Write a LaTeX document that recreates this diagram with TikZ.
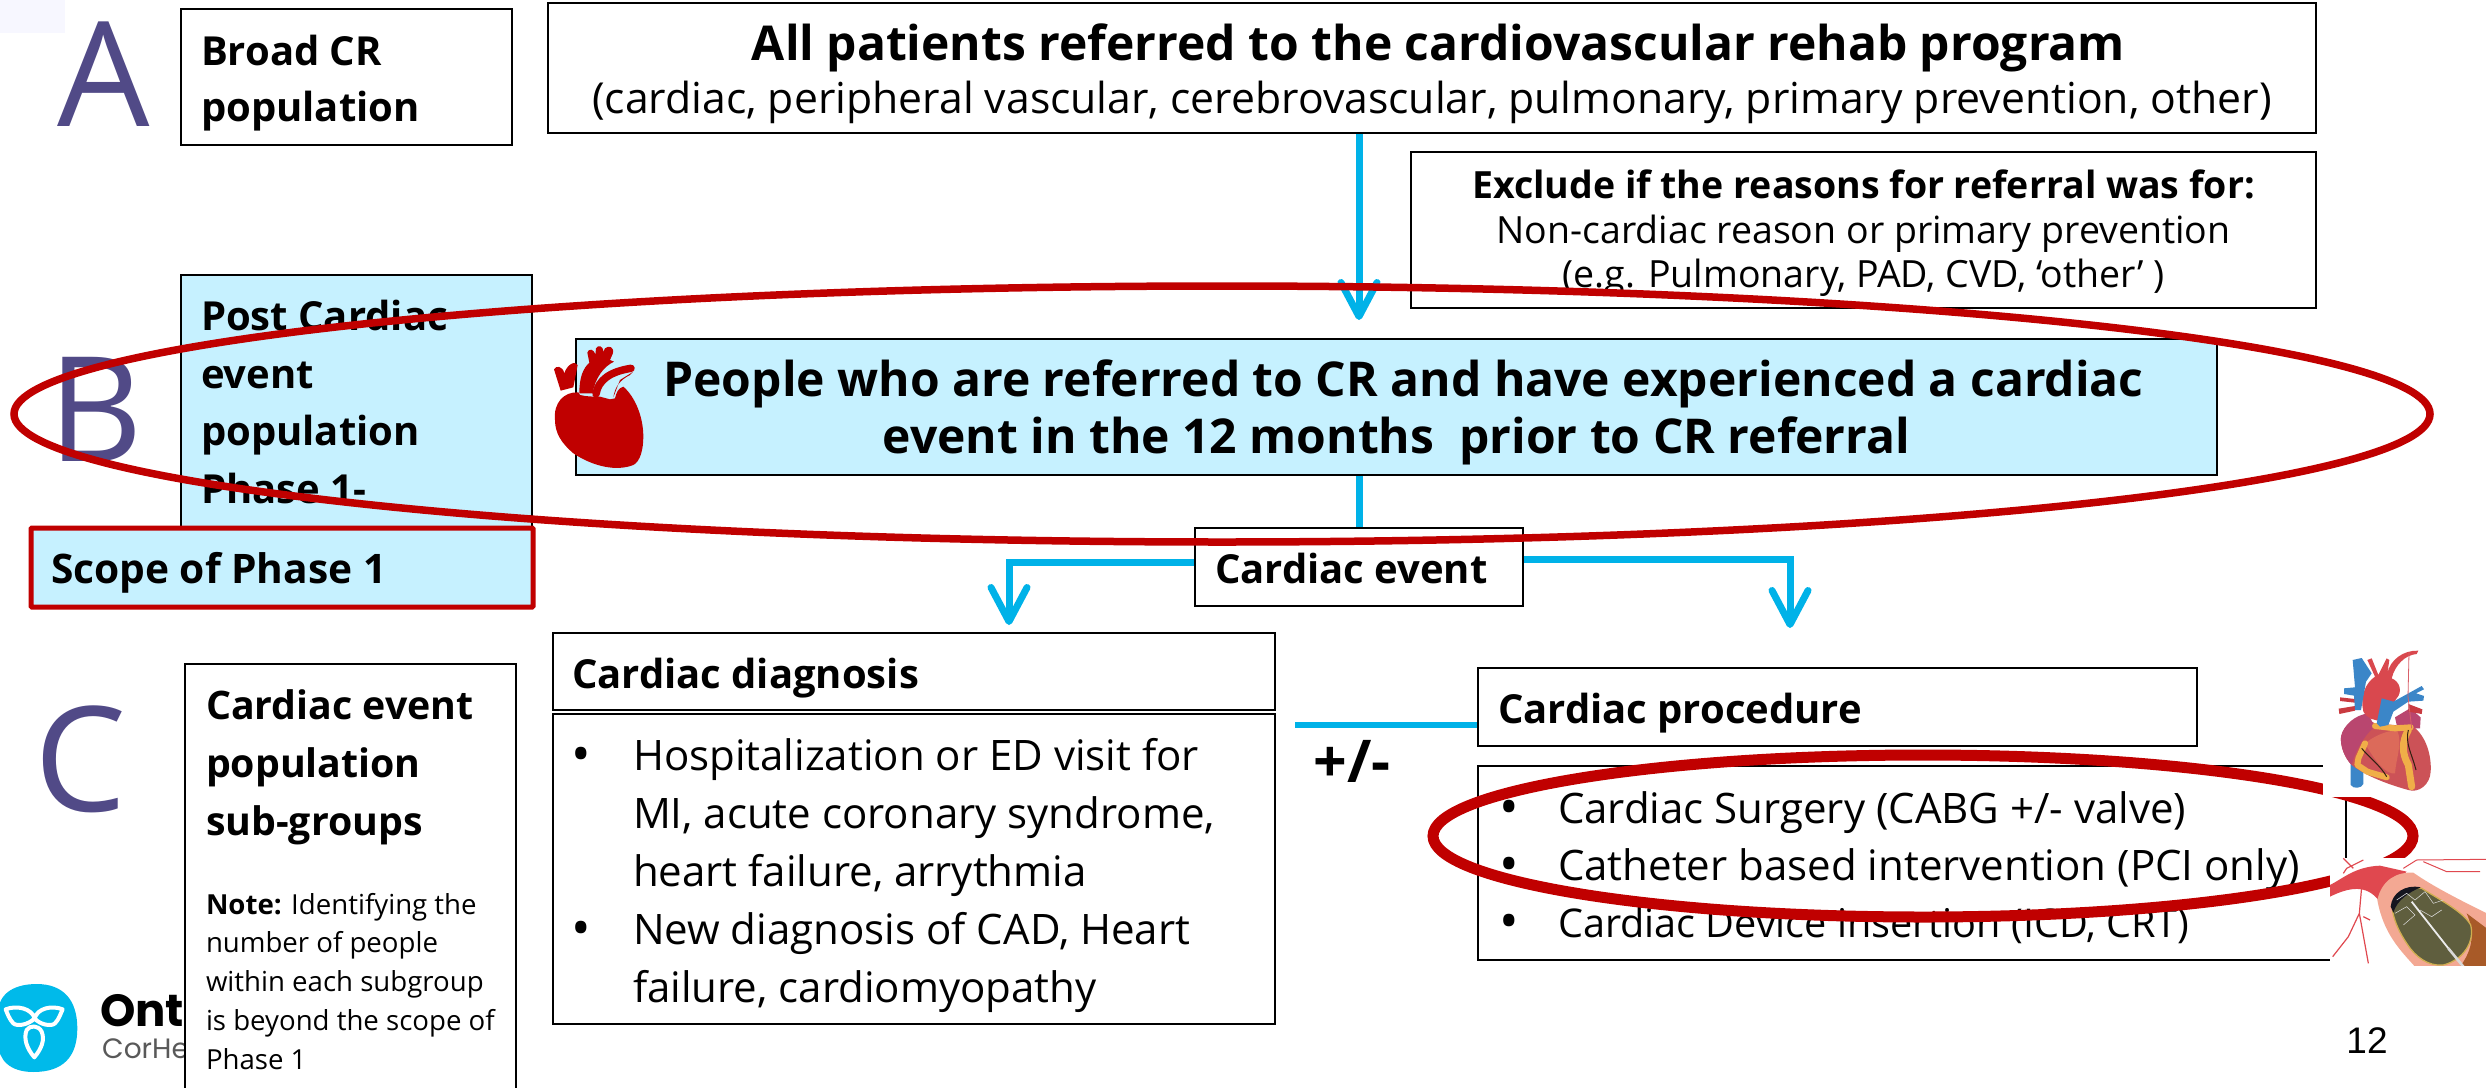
\documentclass[tikz,border=0pt]{standalone}
\usepackage{fontspec}
\usetikzlibrary{arrows.meta}
\setmainfont{Open Sans}
\newfontfamily\logofont{Poppins}
\newfontfamily\numfont{Liberation Sans}
\definecolor{pale}{HTML}{C6F1FF}
\definecolor{crimson}{HTML}{C00000}
\definecolor{sky}{HTML}{00B2E8}
\definecolor{violet}{HTML}{514A87}
\definecolor{hblue}{HTML}{3B86C8}
\definecolor{hbody}{HTML}{CC5257}
\definecolor{hpink}{HTML}{B9466F}
\definecolor{hgold}{HTML}{F0AE48}
\definecolor{hsalmon}{HTML}{DC6A5A}
\definecolor{hdark}{HTML}{C93A40}
\definecolor{hred}{HTML}{D9484E}
\definecolor{hline}{HTML}{D9606A}
\definecolor{sred}{HTML}{E0484F}
\definecolor{swall}{HTML}{F3A893}
\definecolor{sbrown}{HTML}{A85A28}
\definecolor{solive}{HTML}{5F5E3E}
\definecolor{sgold}{HTML}{D0AE50}
\definecolor{snavy}{HTML}{15151F}
\newcommand{\fsz}[2]{\fontsize{#1}{#2}\selectfont}
\newcommand{\dn}[1]{\rule{0pt}{#1pt}}
\newcommand{\bdot}{\makebox[0pt][l]{\fsz{52}{0}\raisebox{-2pt}{•}}}
\newcommand{\bul}[2][61pt]{\noindent\makebox[#1][l]{\bdot}#2\par}
\newcommand{\cnt}[2][61pt]{\noindent\hspace*{#1}#2\par}
\tikzset{
 box/.style={draw=black,line width=2pt,fill=white,inner sep=0pt,inner xsep=20pt,align=flush left,execute at begin node={\spaceskip=0pt\relax\xspaceskip=0pt\relax}},
 cbox/.style={draw=black,line width=2pt,fill=white,inner sep=0pt,align=flush center,execute at begin node={\spaceskip=0pt\relax\xspaceskip=0pt\relax}},
 bigletter/.style={text=violet,font=\fsz{146}{146},inner sep=0pt},
 flow/.style={draw=sky,line width=7pt},
 flowtip/.style={flow,-{Straight Barb[length=34pt,width=36pt,line width=7pt,round]}},
 ring/.style={draw=crimson},
}
\begin{document}
\begin{tikzpicture}[x=1pt,y=-1pt]
\useasboundingbox (0,0) rectangle (2486,1087);
\fill[white] (0,0) rectangle (2486,1087);
\fill[blue!3] (0,0) rectangle (65,33);
% letters
\node[bigletter] (la) at (104,74) {A};
\node[bigletter] (lb) at (96,409) {B};
\node[bigletter] (lc) at (81,759) {C};
% logo
\begin{scope}[shift={(0,960)},x=0.3333pt,y=-0.3333pt]
 \fill[sky!90!cyan] (-5,150) .. controls (0,95) and (50,72) .. (110,72) .. controls (190,72) and (232,120) .. (232,205)
   .. controls (232,290) and (190,336) .. (100,336) .. controls (30,336) and (-5,300) .. (-5,250) -- cycle;
 \draw[white,line width=4pt,line join=round]
   (17,148) .. controls (50,135) and (95,145) .. (104,175) .. controls (85,195) and (50,200) .. (40,190) .. controls (28,178) and (22,160) .. (17,148) -- cycle
   (188,148) .. controls (155,135) and (112,145) .. (104,175) .. controls (120,195) and (155,200) .. (165,190) .. controls (177,178) and (182,160) .. (188,148) -- cycle
   (103,292) .. controls (80,265) and (70,235) .. (80,210) .. controls (90,195) and (115,195) .. (125,215) .. controls (135,240) and (125,265) .. (103,292) -- cycle;
\end{scope}
\node[inner sep=0pt,anchor=base west,font=\logofont\bfseries\fsz{45}{45}] (logoa) at (100,1026) {Onta};
\node[inner sep=0pt,anchor=base west,text=black!65,font=\logofont\fsz{28}{28}] (logob) at (102,1058) {CorHe};
% boxes
\node[box,minimum width=331pt,minimum height=136pt,text width=291pt,font=\bfseries\fsz{40}{56}] (broad) at (346.5,77) {\dn{43}Broad CR\\population};
\node[cbox,minimum width=1768pt,minimum height=130pt,text width=1760pt] (top) at (1432,68)
 {{\bfseries\fsz{48}{56}\dn{48}\hspace*{13pt}All patients referred to the cardiovascular rehab program}\\[8pt]{\fsz{42.7}{54}(cardiac, peripheral vascular, cerebrovascular, pulmonary, primary prevention, other)}};
\node[cbox,minimum width=905pt,minimum height=156pt,text width=895pt,font=\fsz{37.5}{44.5}] (excl) at (1863.5,230)
 {{\bfseries\dn{35}Exclude if the reasons for referral was for:}\\Non-cardiac reason or primary prevention\\(e.g. Pulmonary, PAD, CVD, ‘other’ )};
\node[box,fill=pale,minimum width=351pt,minimum height=254pt,text width=311pt,font=\bfseries\fsz{40}{57.5}] (post) at (356.5,402) {Post Cardiac\\event\\population\\Phase 1-};
\node[box,fill=pale,draw=crimson,line width=5pt,rounded corners=1pt,minimum width=500pt,minimum height=79pt,text width=462pt,font=\bfseries\fsz{40.7}{50}] (scope) at (282,567.5) {\dn{41}Scope of Phase 1};
\node[cbox,fill=pale,minimum width=1641pt,minimum height=136pt,text width=1600pt,font=\bfseries\fsz{48}{57}] (people) at (1396.5,407)
 {\dn{47}\hspace*{14pt}People who are referred to CR and have experienced a cardiac\\event in the 12 months\ \ prior to CR referral};
\node[box,minimum width=328pt,minimum height=78pt,text width=288pt,font=\bfseries\fsz{40}{50}] (ce) at (1359,567) {\dn{34}Cardiac event};
\node[box,inner xsep=19pt,minimum width=722pt,minimum height=77pt,text width=684pt,font=\bfseries\fsz{40}{50}] (dh) at (914,671.5) {\dn{43}Cardiac diagnosis};
\node[box,inner xsep=18pt,minimum width=722pt,minimum height=310pt,text width=686pt,font=\fsz{42}{58}] (dl) at (914,869)
 {\bul[62pt]{\dn{45}Hospitalization or ED visit for}\cnt[62pt]{MI, acute coronary syndrome,}\cnt[62pt]{heart failure, arrythmia}\bul[62pt]{New diagnosis of CAD, Heart}\cnt[62pt]{failure, cardiomyopathy}};
\node[box,minimum width=719pt,minimum height=78pt,text width=679pt,font=\bfseries\fsz{40}{50}] (ph) at (1837.5,707) {\dn{43}Cardiac procedure};
\node[box,inner xsep=21pt,minimum width=868pt,minimum height=194pt,text width=826pt,font=\fsz{42}{57}] (pl) at (1912,863)
 {\bul[59pt]{\dn{42}Cardiac Surgery (CABG +/- valve)}\bul[59pt]{Catheter based intervention (PCI only)}\bul[59pt]{{\fsz{39.6}{57}Cardiac Device insertion (ICD, CRT)}}};
\node[box,inner xsep=21pt,minimum width=331pt,minimum height=431pt,text width=289pt] (note) at (350.5,879.5)
 {{\bfseries\fsz{39.3}{58}Cardiac event\\population\\sub-groups\par}\vspace{40pt}{\fsz{27.6}{38.7}\textbf{Note:} Identifying the\\number of people\\within each subgroup\\is beyond the scope of\\Phase 1\par}};
% heart icon
\begin{scope}[shift={(520,280)},x=0.3333pt,y=-0.3333pt]
 \fill[crimson] (105,420) .. controls (100,370) and (130,335) .. (175,337) -- (180,345) .. controls (200,350) and (220,350) .. (240,350)
   -- (270,358) -- (285,355) .. controls (290,335) and (295,325) .. (310,320) .. controls (345,350) and (370,410) .. (370,470)
   .. controls (370,510) and (360,545) .. (340,555) .. controls (290,575) and (220,560) .. (160,520) .. controls (125,490) and (105,460) .. (105,420) -- cycle;
 \fill[crimson] (122,332) -- (102,268) .. controls (108,255) and (128,258) .. (133,280) .. controls (140,255) and (165,240) .. (173,255) -- (160,322) -- cycle;
 \fill[crimson] (178,340) .. controls (178,290) and (190,265) .. (208,248) -- (202,218) .. controls (205,205) and (222,205) .. (226,225)
   -- (228,205) .. controls (235,193) and (250,198) .. (250,215) -- (255,205) .. controls (265,195) and (285,200) .. (278,222) -- (270,240) -- (282,245)
   .. controls (250,260) and (225,295) .. (218,340) -- cycle;
 \draw[crimson,line width=7.5pt,line cap=round] (228,342) .. controls (235,300) and (270,275) .. (333,265);
 \fill[crimson] (280,352) .. controls (285,320) and (300,300) .. (330,285) -- (340,275) -- (300,300) -- cycle;
\end{scope}
% connectors
\coordinate (bendl) at (1009,562);
\coordinate (bendr) at (1790,559);
\draw[flowtip,shorten >=18pt] (top.south -| ce.north) -- (people.north -| ce.north);
\draw[flow] (people.south -| ce.north) -- (ce.north);
\draw[flowtip,shorten >=7pt] (ce.west |- bendl) -- (bendl) -- (dh.north -| bendl);
\draw[flowtip,shorten >=39pt] (ce.east |- bendr) -- (bendr) -- (ph.north -| bendr);
\coordinate (pmstart) at (1295,725);
\draw[flow,line width=6pt] (pmstart) -- (ph.west |- pmstart);
\node[inner sep=0pt,font=\bfseries\fsz{59}{59}] (pm) at (1352,761) {+/-};
% rings
\draw[ring,line width=7.5pt] (1222,414) ellipse [x radius=1208,y radius=128];
\draw[ring,line width=11pt] (1923,836) ellipse [x radius=490,y radius=81];
% anatomical heart picture
\fill[white] (2323,630) rectangle (2486,797);
\begin{scope}[shift={(2280,630)},x=0.3333pt,y=-0.3333pt]
 \fill[hblue] (212,400) -- (250,420) -- (250,462) .. controls (245,475) and (220,478) .. (212,465) -- cycle;
 \fill[hbody] (183,320) .. controls (190,280) and (240,255) .. (285,280) -- (400,290) .. controls (440,320) and (455,380) .. (452,425)
   .. controls (450,465) and (415,490) .. (385,480) .. controls (330,465) and (260,440) .. (215,405) .. controls (195,385) and (180,350) .. (183,320) -- cycle;
 \fill[hpink] (183,320) .. controls (190,285) and (225,255) .. (265,250) -- (283,290) .. controls (250,320) and (225,365) .. (215,405) .. controls (195,385) and (180,350) .. (183,320) -- cycle;
 \fill[hpink] (345,262) -- (390,235) -- (422,262) -- (420,295) -- (385,295) -- (350,285) -- cycle;
 \fill[hsalmon] (255,340) .. controls (280,320) and (320,300) .. (352,302) .. controls (368,340) and (348,385) .. (345,430) .. controls (320,435) and (285,395) .. (255,340) -- cycle;
 \draw[hgold,line width=6pt,line join=round,line cap=round] (285,288) -- (345,295) -- (392,292) (255,340) -- (235,385) -- (232,405) -- (262,425) -- (320,442);
 \draw[hgold,line width=7pt,line join=round,line cap=round] (385,300) .. controls (365,335) and (365,370) .. (385,405) -- (395,470);
 \draw[black!75!brown,line width=1pt] (385,300) .. controls (375,340) and (395,370) .. (408,420);
 \draw[black!75!brown,line width=1pt] (245,355) .. controls (265,380) and (300,405) .. (320,440);
 \fill[hdark] (180,202) -- (225,207) -- (225,218) -- (180,213) -- cycle (176,236) -- (225,228) -- (225,242) -- (178,252) -- cycle (385,222) -- (427,238) -- (425,252) -- (385,245) -- cycle;
 \fill[hred] (262,90) -- (275,85) -- (295,135) -- (320,85) -- (328,90) -- (322,130) .. controls (330,90) and (370,60) .. (415,62) -- (410,72) .. controls (375,75) and (345,105) .. (335,145)
   .. controls (360,155) and (368,185) .. (350,205) -- (305,270) .. controls (285,275) and (262,265) .. (250,245) .. controls (240,200) and (255,160) .. (285,140) -- cycle;
 \fill[hblue] (218,90) -- (245,84) -- (275,130) -- (258,155) -- (243,240) -- (225,240) -- (222,197) -- (192,192) -- (192,175) -- (225,172) -- cycle;
 \fill[hblue] (290,280) -- (305,205) -- (340,215) -- (425,168) -- (432,178) -- (408,190) -- (432,198) -- (430,212) -- (385,215) -- (340,245) -- (325,285) -- (300,290) -- cycle;
 \draw[hline,line width=0.8pt] (387,68) -- (384,200) -- (395,295);
\end{scope}
% stent picture
\fill[white] (2330,858) rectangle (2486,966);
\begin{scope}[shift={(2300,800)},x=0.3333pt,y=-0.3333pt]
 \begin{scope}
 \clip (90,173) rectangle (558,497);
 \draw[sred,line width=1.2pt] (185,260) -- (178,340) -- (145,410) -- (98,470) (178,340) -- (205,490) (190,350) -- (210,360) (130,220) -- (140,205) -- (190,180) (160,205) -- (130,175);
 \draw[sred,line width=1pt] (310,205) -- (350,180) -- (560,178) (370,185) -- (440,215) -- (540,215);
 \fill[sred] (90,290) -- (90,255) .. controls (130,235) and (165,200) .. (240,197) -- (320,215) -- (235,300) .. controls (200,255) and (150,260) .. (90,290) -- cycle;
 \fill[swall] (232,300) .. controls (245,240) and (290,215) .. (340,218) .. controls (400,260) and (480,300) .. (560,340) -- (560,500) -- (345,500) .. controls (300,450) and (250,400) .. (232,300) -- cycle;
 \fill[sbrown] (500,340) -- (560,385) -- (560,500) -- (480,500) .. controls (510,460) and (530,410) .. (500,340) -- cycle;
 \filldraw[fill=solive,draw=sgold,line width=1.3pt] (278,335) .. controls (280,280) and (320,255) .. (365,265) .. controls (420,300) and (490,335) .. (512,375) .. controls (525,425) and (490,480) .. (430,495) .. controls (385,500) and (345,470) .. (320,430) .. controls (300,400) and (285,370) .. (278,335) -- cycle;
 \fill[snavy] (272,320) .. controls (275,280) and (315,252) .. (362,262) .. controls (330,275) and (290,300) .. (280,338) -- cycle;
 \draw[white!75!gray,line width=0.5pt] (290,300) -- (320,280) -- (345,300) -- (375,275) -- (400,310) -- (430,300)
   (285,340) -- (320,320) -- (345,345) -- (310,375) (360,330) -- (395,350) -- (425,330);
 \draw[white!85!gray,line width=1.8pt] (335,305) -- (445,445);
 \draw[white!70!gray,line width=2.6pt] (445,445) -- (490,500);
 \end{scope}
\end{scope}
\node[inner sep=0pt,font=\numfont\fsz{37}{37}] (pg) at (2367,1041) {12};
\end{tikzpicture}
\end{document}
